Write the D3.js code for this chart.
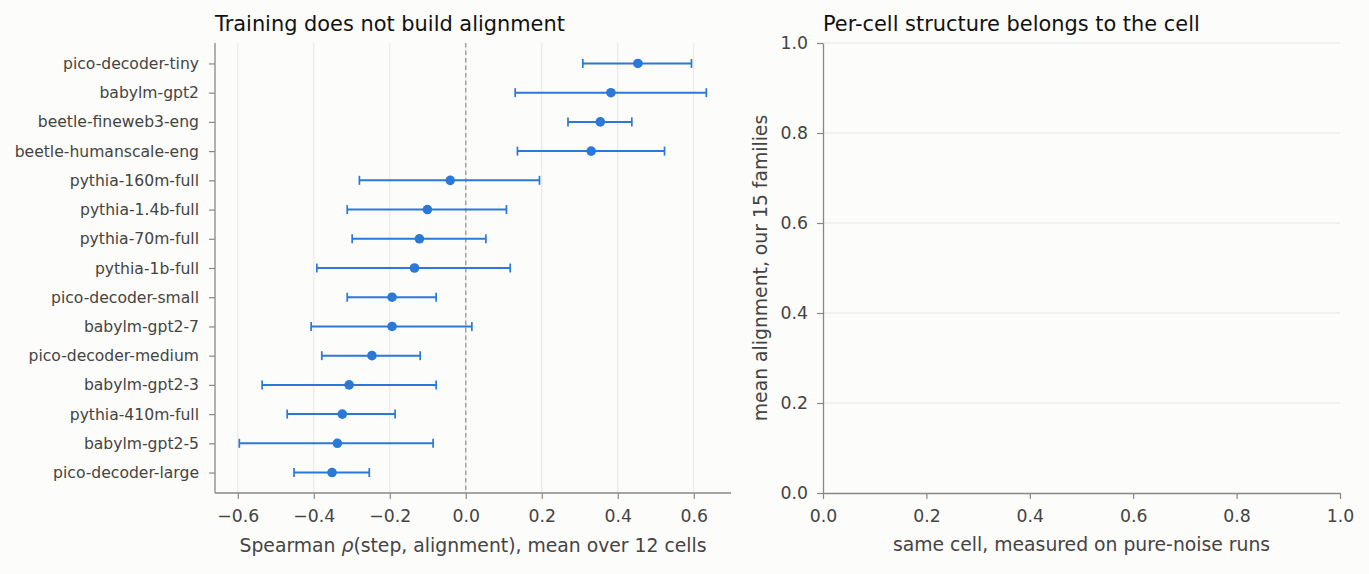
<!DOCTYPE html>
<html>
<head>
<meta charset="utf-8">
<script src="https://cdn.jsdelivr.net/npm/d3@7"></script>
<style>
  body { margin: 0; background: #fcfcfa; }
  svg { display: block; font-family: "DejaVu Sans", sans-serif; }
</style>
</head>
<body>
<svg id="chart" width="1369" height="574"></svg>
<script>
// model families, top to bottom
const families = [
  "pico-decoder-tiny", "babylm-gpt2", "beetle-fineweb3-eng", "beetle-humanscale-eng",
  "pythia-160m-full", "pythia-1.4b-full", "pythia-70m-full", "pythia-1b-full",
  "pico-decoder-small", "babylm-gpt2-7", "pico-decoder-medium", "babylm-gpt2-3",
  "pythia-410m-full", "babylm-gpt2-5", "pico-decoder-large"
];
// mean spearman rho and interval ends
const rhoMean = [0.453, 0.382, 0.354, 0.330, -0.041, -0.101, -0.122, -0.135,
                 -0.194, -0.194, -0.247, -0.307, -0.325, -0.338, -0.352];
const rhoLo   = [0.308, 0.130, 0.269, 0.136, -0.280, -0.312, -0.299, -0.392,
                 -0.312, -0.407, -0.379, -0.536, -0.470, -0.596, -0.452];
const rhoHi   = [0.594, 0.633, 0.437, 0.523, 0.194, 0.107, 0.053, 0.117,
                 -0.078, 0.016, -0.120, -0.078, -0.186, -0.086, -0.254];
const leftTicks  = [-0.6, -0.4, -0.2, 0.0, 0.2, 0.4, 0.6];
const rightTicks = [0.0, 0.2, 0.4, 0.6, 0.8, 1.0];

const blue = "#2a78d8", spine = "#888", tickText = "#444";
const svg = d3.select("#chart");
const plotTop = 43, plotBottom = 493;
const titleSize = 20.9, labelSize = 18.8, numSize = 17.3, catSize = 15.6;

// ---- left panel ----
const L = { x0: 215, x1: 731 };
const xL = d3.scaleLinear().domain([-0.66, 0.698]).range([L.x0, L.x1]);
const yL = d3.scaleLinear().domain([-0.7, families.length - 1 + 0.7]).range([plotTop, plotBottom]);

const gl = svg.append("g");
gl.selectAll("line.grid").data(leftTicks).enter().append("line")
  .attr("x1", d => xL(d)).attr("x2", d => xL(d))
  .attr("y1", plotTop).attr("y2", plotBottom)
  .attr("stroke", "#e6e6e6").attr("stroke-width", 1);

gl.append("line")
  .attr("x1", xL(0)).attr("x2", xL(0)).attr("y1", plotTop).attr("y2", plotBottom)
  .attr("stroke", "#999").attr("stroke-width", 1.3).attr("stroke-dasharray", "4.5,3");

const rows = gl.selectAll("g.row").data(families).enter().append("g");
rows.append("line")
  .attr("x1", (d, i) => xL(rhoLo[i])).attr("x2", (d, i) => xL(rhoHi[i]))
  .attr("y1", (d, i) => yL(i)).attr("y2", (d, i) => yL(i))
  .attr("stroke", blue).attr("stroke-width", 2);
[rhoLo, rhoHi].forEach(arr => {
  rows.append("line")
    .attr("x1", (d, i) => xL(arr[i])).attr("x2", (d, i) => xL(arr[i]))
    .attr("y1", (d, i) => yL(i) - 4.5).attr("y2", (d, i) => yL(i) + 4.5)
    .attr("stroke", blue).attr("stroke-width", 1.7);
});
rows.append("circle")
  .attr("cx", (d, i) => xL(rhoMean[i])).attr("cy", (d, i) => yL(i))
  .attr("r", 4.8).attr("fill", blue);

const axL = gl.append("g").attr("transform", `translate(0,${plotBottom})`)
  .call(d3.axisBottom(xL).tickValues(leftTicks).tickFormat(d3.format(".1f")).tickSize(6).tickSizeOuter(0).tickPadding(11));
const ayL = gl.append("g").attr("transform", `translate(${L.x0},0)`)
  .call(d3.axisLeft(d3.scalePoint().domain(families).range([yL(0), yL(families.length - 1)]))
    .tickSize(6).tickSizeOuter(0).tickPadding(10));
ayL.select(".domain").attr("d", `M0,${plotTop}V${plotBottom}`);
axL.select(".domain").attr("d", `M${L.x0},0H${L.x1}`);
axL.selectAll("text").attr("font-size", numSize);
ayL.selectAll("text").attr("font-size", catSize);

gl.append("text").attr("x", L.x0).attr("y", 31)
  .attr("font-size", titleSize).attr("fill", "#111").text("Training does not build alignment");
gl.append("text").attr("x", (L.x0 + L.x1) / 2).attr("y", 552).attr("text-anchor", "middle")
  .attr("font-size", labelSize).attr("fill", tickText)
  .html('Spearman <tspan font-style="italic">ρ</tspan>(step, alignment), mean over 12 cells');

// ---- right panel ----
const R = { x0: 823, x1: 1340 };
const xR = d3.scaleLinear().domain([0, 1]).range([R.x0, R.x1]);
const yR = d3.scaleLinear().domain([0, 1]).range([plotBottom, plotTop]);
const gr = svg.append("g");
gr.selectAll("line.grid").data(rightTicks.slice(1)).enter().append("line")
  .attr("x1", R.x0).attr("x2", R.x1)
  .attr("y1", d => yR(d)).attr("y2", d => yR(d))
  .attr("stroke", "#e6e6e6").attr("stroke-width", 1);
const axR = gr.append("g").attr("transform", `translate(0,${plotBottom})`)
  .call(d3.axisBottom(xR).tickValues(rightTicks).tickFormat(d3.format(".1f")).tickSize(6).tickSizeOuter(0).tickPadding(11));
const ayR = gr.append("g").attr("transform", `translate(${R.x0},0)`)
  .call(d3.axisLeft(yR).tickValues(rightTicks).tickFormat(d3.format(".1f")).tickSize(6).tickSizeOuter(0).tickPadding(9));
axR.selectAll("text").attr("font-size", numSize);
ayR.selectAll("text").attr("font-size", numSize);

gr.append("text").attr("x", R.x0).attr("y", 31)
  .attr("font-size", titleSize).attr("fill", "#111").text("Per-cell structure belongs to the cell");
gr.append("text").attr("x", (R.x0 + R.x1) / 2).attr("y", 551).attr("text-anchor", "middle")
  .attr("font-size", labelSize).attr("fill", tickText).text("same cell, measured on pure-noise runs");
gr.append("text").attr("transform", `translate(767,${(plotTop + plotBottom) / 2}) rotate(-90)`)
  .attr("text-anchor", "middle").attr("font-size", labelSize).attr("fill", tickText)
  .text("mean alignment, our 15 families");

// axis styling
svg.selectAll(".domain").attr("stroke", spine).attr("stroke-width", 1.3);
svg.selectAll(".tick line").attr("stroke", spine).attr("stroke-width", 1.2);
svg.selectAll(".tick text").attr("fill", tickText).attr("font-family", "DejaVu Sans");
</script>
</body>
</html>
